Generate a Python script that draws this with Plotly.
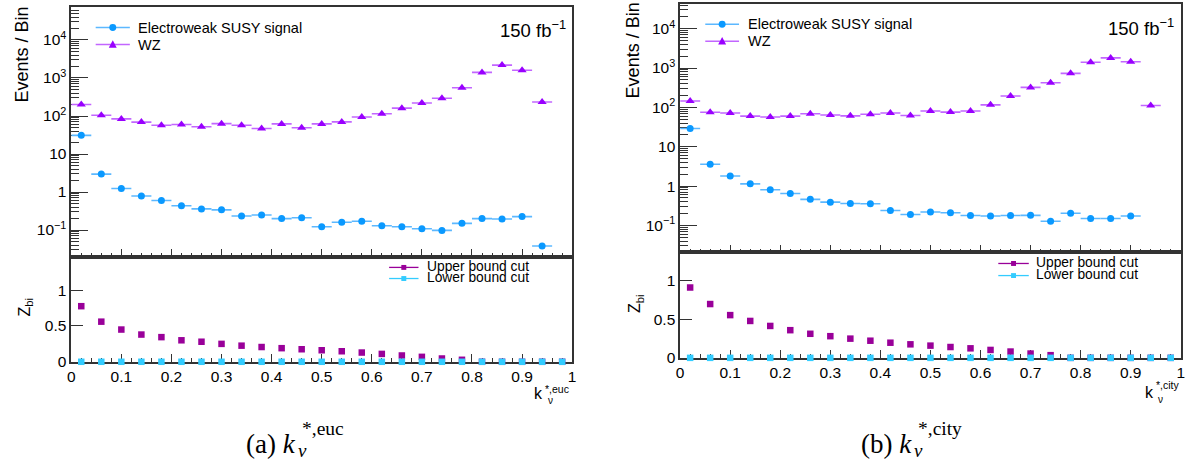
import plotly.graph_objects as go

W, H = 1194, 474

# ---------------- data ----------------
bin_centers = [0.02, 0.06, 0.10, 0.14, 0.18, 0.22, 0.26, 0.30, 0.34, 0.38,
               0.42, 0.46, 0.50, 0.54, 0.58, 0.62, 0.66, 0.70, 0.74, 0.78,
               0.82, 0.86, 0.90, 0.94, 0.98]
bin_half_width = [0.02] * 25

sig_euc = [31, 2.96, 1.24, 0.79, 0.60, 0.435, 0.36, 0.34, 0.235, 0.25,
           0.20, 0.21, 0.122, 0.161, 0.17, 0.13, 0.122, 0.108, 0.098, 0.15,
           0.20, 0.195, 0.226, 0.038, None]
wz_euc = [200, 105, 84, 69, 57, 60, 52, 63, 57, 47,
          62, 49, 62, 70, 94, 115, 161, 220, 292, 553,
          1400, 2180, 1590, 234, None]

sig_city = [29, 3.6, 1.81, 1.14, 0.81, 0.65, 0.46, 0.39, 0.36, 0.355,
            0.24, 0.19, 0.22, 0.21, 0.178, 0.174, 0.178, 0.18, 0.128, 0.203,
            0.15, 0.15, 0.174, None, None]
wz_city = [146, 75, 72, 60, 57, 60, 69, 64, 61, 67,
           72, 62, 81, 76, 81, 116, 195, 322, 422, 733,
           1410, 1810, 1440, 112, None]

zbi_upper_euc = [0.776, 0.56, 0.45, 0.38, 0.344, 0.30, 0.28, 0.25, 0.225, 0.206,
                 0.19, 0.175, 0.161, 0.147, 0.129, 0.11, 0.088, 0.069, 0.046, 0.028,
                 0, 0, 0, 0, 0]
zbi_lower_euc = [0, 0, 0, 0, 0, 0, 0, 0, 0, 0, 0, 0, 0, 0, 0, 0, 0, 0, 0, 0, 0, 0, 0, 0, 0]

zbi_upper_city = [0.915, 0.70, 0.556, 0.48, 0.415, 0.36, 0.313, 0.282, 0.25, 0.223,
                  0.197, 0.176, 0.159, 0.141, 0.124, 0.103, 0.082, 0.056, 0.035, 0,
                  0, 0, 0, 0, 0]
zbi_lower_city = [0, 0, 0, 0, 0, 0, 0, 0, 0, 0, 0, 0, 0, 0, 0, 0, 0, 0, 0, 0, 0, 0, 0, 0, 0]

log_tickvals = [0.1, 1, 10, 100, 1000, 10000]
log_ticktext = ["10<sup>−1</sup>", "1", "10", "10<sup>2</sup>", "10<sup>3</sup>", "10<sup>4</sup>"]
log_minor = [m * 10 ** k for k in range(-2, 5) for m in range(2, 10)]

# ---------------- styles ----------------
SIG_C, SIG_L = "#0a99ff", "#5cb8ff"
WZ_C, WZ_L = "#9900ff", "#c266ff"
UP_C, LO_C = "#990099", "#33ccff"
SANS = "Liberation Sans, Arial, Helvetica, sans-serif"
SERIF = "Liberation Serif, Times New Roman, serif"
FRAME = "#333333"


def px(x):
    return x / W


def py(y):
    return 1 - y / H


fig = go.Figure()


def add_panel(n_top, n_bot, sig, wz, zu, zl):
    xt = "x" if n_top == 1 else f"x{n_top}"
    yt = "y" if n_top == 1 else f"y{n_top}"
    xb, yb = f"x{n_bot}", f"y{n_bot}"
    fig.add_trace(go.Scatter(
        x=bin_centers, y=sig, mode="markers", xaxis=xt, yaxis=yt,
        marker=dict(symbol="circle", size=7, color=SIG_C),
        error_x=dict(type="data", array=bin_half_width, width=0, thickness=1.6, color=SIG_L),
        showlegend=False))
    fig.add_trace(go.Scatter(
        x=bin_centers, y=wz, mode="markers", xaxis=xt, yaxis=yt,
        marker=dict(symbol="triangle-up", size=8, color=WZ_C),
        error_x=dict(type="data", array=bin_half_width, width=0, thickness=1.6, color=WZ_L),
        showlegend=False))
    fig.add_trace(go.Scatter(
        x=bin_centers, y=zu, mode="markers", xaxis=xb, yaxis=yb, cliponaxis=False,
        marker=dict(symbol="square", size=6.5, color=UP_C), showlegend=False))
    fig.add_trace(go.Scatter(
        x=bin_centers, y=zl, mode="markers", xaxis=xb, yaxis=yb, cliponaxis=False,
        marker=dict(symbol="square", size=6.5, color=LO_C), showlegend=False))


add_panel(1, 2, sig_euc, wz_euc, zbi_upper_euc, zbi_lower_euc)
add_panel(3, 4, sig_city, wz_city, zbi_upper_city, zbi_lower_city)

tickfont = dict(family=SANS, size=15.5, color="black")
common_x = dict(range=[0, 1], showgrid=False, zeroline=False, showline=True, mirror=True,
                linecolor=FRAME, linewidth=1.5, ticks="inside", dtick=0.1, tick0=0,
                ticklen=8, tickcolor=FRAME, tickwidth=1, layer="below traces",
                minor=dict(dtick=0.02, tick0=0, ticks="inside", ticklen=4, tickcolor=FRAME, showgrid=False),
                tickfont=tickfont)
common_ylog = dict(type="log", showgrid=False, zeroline=False, showline=True, mirror=True,
                   linecolor=FRAME, linewidth=1.5, ticks="inside", tickmode="array",
                   tickvals=log_tickvals, ticktext=log_ticktext, ticklen=17, tickcolor=FRAME,
                   layer="below traces",
                   minor=dict(tickmode="array", tickvals=log_minor, ticks="inside", ticklen=8,
                              tickcolor=FRAME, showgrid=False),
                   tickfont=tickfont)
common_yz = dict(showgrid=False, zeroline=False, showline=True, mirror=True, linecolor=FRAME,
                 linewidth=1.5, ticks="inside", tickmode="array", tickvals=[0, 0.5, 1],
                 ticktext=["0", "0.5", "1"], ticklen=12, tickcolor=FRAME, tickfont=tickfont,
                 layer="below traces")

L_dom = [px(67.7), px(572)]
R_dom = [px(680.7), px(1184.7)]

fig.update_layout(
    width=W, height=H, margin=dict(l=0, r=0, t=0, b=0),
    paper_bgcolor="white", plot_bgcolor="white", showlegend=False,
    xaxis=dict(common_x, domain=L_dom, anchor="y", showticklabels=False),
    yaxis=dict(common_ylog, domain=[py(261), py(7)], anchor="x", range=[-1.698, 4.87]),
    xaxis2=dict(common_x, domain=L_dom, anchor="y2"),
    yaxis2=dict(common_yz, domain=[py(368), py(261)], anchor="x2", range=[0, 1.468]),
    xaxis3=dict(common_x, domain=R_dom, anchor="y3", showticklabels=False),
    yaxis3=dict(common_ylog, domain=[py(256.7), py(4)], anchor="x3", range=[-1.685, 4.63]),
    xaxis4=dict(common_x, domain=R_dom, anchor="y4"),
    yaxis4=dict(common_yz, domain=[py(364), py(256.7)], anchor="x4", range=[0, 1.372]),
)

ann = []
shapes = []


def text(x, y, s, size, xanchor="left", yanchor="middle", family=SANS, angle=0):
    ann.append(dict(x=px(x), y=py(y), xref="paper", yref="paper", text=s, showarrow=False,
                    xanchor=xanchor, yanchor=yanchor, textangle=angle,
                    font=dict(family=family, size=size, color="black")))


def leg_line(x0, x1, y, color, width=1.6):
    shapes.append(dict(type="line", xref="paper", yref="paper", x0=px(x0), x1=px(x1),
                       y0=py(y), y1=py(y), line=dict(color=color, width=width)))


def leg_circle(x, y, r, color):
    shapes.append(dict(type="circle", xref="paper", yref="paper", x0=px(x - r), x1=px(x + r),
                       y0=py(y + r), y1=py(y - r), fillcolor=color, line=dict(width=0)))


def leg_square(x, y, r, color):
    shapes.append(dict(type="rect", xref="paper", yref="paper", x0=px(x - r), x1=px(x + r),
                       y0=py(y + r), y1=py(y - r), fillcolor=color, line=dict(width=0)))


def leg_tri(x, y, r, color):
    path = (f"M {px(x - r)} {py(y + r * 0.8)} L {px(x + r)} {py(y + r * 0.8)} "
            f"L {px(x)} {py(y - r * 1.1)} Z")
    shapes.append(dict(type="path", xref="paper", yref="paper", path=path,
                       fillcolor=color, line=dict(width=0)))


def panel_decor(lx0, lx1, ly1, ly2, tx, lumi_x, lumi_y,
                blx0, blx1, bly1, bly2, btx, ytitle_x, ytitle_y, z_x, z_y):
    # top legend
    leg_line(lx0, lx1, ly1, SIG_L)
    leg_circle((lx0 + lx1) / 2, ly1, 3.5, SIG_C)
    text(tx, ly1, "Electroweak SUSY signal", 14.5)
    leg_line(lx0, lx1, ly2, WZ_L)
    leg_tri((lx0 + lx1) / 2, ly2, 4, WZ_C)
    text(tx, ly2, "WZ", 14.5)
    text(lumi_x, lumi_y, "150 fb<sup>−1</sup>", 18.5, xanchor="right")
    # bottom legend
    leg_line(blx0, blx1, bly1, UP_C, 1.3)
    leg_square((blx0 + blx1) / 2, bly1, 2.5, UP_C)
    text(btx, bly1 - 1.3, "Upper bound cut", 13.8)
    leg_line(blx0, blx1, bly2, LO_C, 1.3)
    leg_square((blx0 + blx1) / 2, bly2, 2.5, LO_C)
    text(btx, bly2 - 1.3, "Lower bound cut", 13.8)
    # y titles
    text(ytitle_x, ytitle_y, "Events / Bin", 18, xanchor="center", angle=-90)
    text(z_x, z_y, "Z<sub>bi</sub>", 16, xanchor="center", angle=-90)


panel_decor(92.3, 126.7, 28, 45.3, 133, 567.5, 30,
            387.7, 417.3, 272, 283.3, 424, 18, 55.5, 21.5, 312.5)
panel_decor(706, 740, 24.7, 42, 746.7, 1180, 27,
            1001, 1031.7, 268, 280.3, 1037.3, 633, 51.5, 636, 308.5)

# x-axis titles of the ratio pads
text(545, 400.5, "k", 16, xanchor="right")
text(545.2, 407.5, "ν", 10)
text(543, 395.5, "*,euc", 10.5)
text(1160, 399.5, "k", 16, xanchor="right")
text(1160.2, 406, "ν", 10)
text(1158, 391.5, "*,city", 10.5)

# captions
text(296, 452, "(a) <i>k</i>", 27, xanchor="right", family=SERIF)
text(294, 458, "<i>ν</i>", 19, family=SERIF)
text(298, 436, "*,euc", 19.5, family=SERIF)
text(916, 452, "(b) <i>k</i>", 27, xanchor="right", family=SERIF)
text(914, 458, "<i>ν</i>", 19, family=SERIF)
text(918, 436, "*,city", 19.5, family=SERIF)

fig.update_layout(annotations=ann, shapes=shapes)
fig.write_html("out.html")
